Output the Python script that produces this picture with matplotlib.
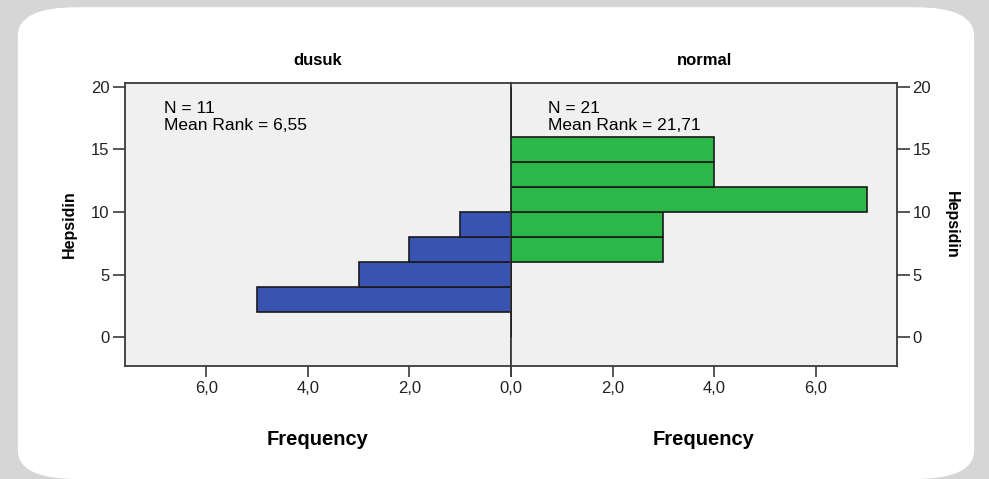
import matplotlib
matplotlib.use("Agg")
import matplotlib.pyplot as plt
from matplotlib.patches import FancyBboxPatch

plt.rcParams['font.family'] = ['Liberation Sans', 'DejaVu Sans']

# Data
groups = ["dusuk", "normal"]
bin_starts = [0, 2, 4, 6, 8, 10, 12, 14, 16, 18]
dusuk_counts = [0, 5, 3, 2, 1, 0, 0, 0, 0, 0]
normal_counts = [0, 0, 0, 3, 3, 7, 4, 4, 0, 0]
bin_width = 2
n_labels = ["N = 11\nMean Rank = 6,55", "N = 21\nMean Rank = 21,71"]
y_ticks = [0, 5, 10, 15, 20]
x_ticks = [0, 2, 4, 6]
x_ticklabels = ["0,0", "2,0", "4,0", "6,0"]

W, H = 989, 479
fig = plt.figure(figsize=(W / 100, H / 100), dpi=100)
fig.patch.set_facecolor('#d6d6d6')
card = FancyBboxPatch((0.018, 0.0), 0.985 - 0.018, 0.985, boxstyle="round,pad=0,rounding_size=0.06",
                      transform=fig.transFigure, facecolor='white', edgecolor='none', zorder=-10)
fig.patches.append(card)

def fx(px):
    return px / W

def fy(py):
    return 1 - py / H

ax_bottom = fy(366)
ax_h = fy(83) - fy(366)
axL = fig.add_axes([fx(125), ax_bottom, fx(511) - fx(125), ax_h])
axR = fig.add_axes([fx(511), ax_bottom, fx(897) - fx(511), ax_h])

blue = '#3953b0'
green = '#2cb848'
edge = '#1a1a1a'
bg = '#f0f0f0'
spine_c = '#3a3a3a'
xmax = 7.6
ylim = (-2.3, 20.3)

for ax, counts, color in [(axL, dusuk_counts, blue), (axR, normal_counts, green)]:
    ax.set_facecolor(bg)
    ax.barh(bin_starts, counts, height=bin_width, align='edge', color=color,
            edgecolor=edge, linewidth=1.2, zorder=3)
    ax.set_ylim(*ylim)
    ax.set_yticks(y_ticks)
    ax.set_xticks(x_ticks)
    for s in ax.spines.values():
        s.set_color(spine_c)
        s.set_linewidth(1.3)
    ax.tick_params(axis='both', colors=spine_c, labelcolor='#222222', labelsize=12,
                   length=9, width=1.2, pad=2)
    ax.tick_params(axis='x', length=8, pad=3)

axL.set_xlim(xmax, 0)
axR.set_xlim(0, xmax)
axL.set_xticklabels(x_ticklabels)
axR.set_xticklabels([""] + x_ticklabels[1:])

axL.yaxis.tick_left()
axR.yaxis.tick_right()
axR.tick_params(axis='y', left=False, labelleft=False, right=True, labelright=True)

axL.set_ylabel("Hepsidin", fontsize=11.5, fontweight='bold', labelpad=10)
axR.yaxis.set_label_position('right')
axR.set_ylabel("Hepsidin", fontsize=11.5, fontweight='bold', rotation=-90, labelpad=20)

for ax, g in [(axL, groups[0]), (axR, groups[1])]:
    ax.set_title(g, fontsize=12, fontweight='bold', pad=13)
    ax.set_xlabel("Frequency", fontsize=14.5, fontweight='bold', labelpad=24)

axL.text(0.1, 0.935, n_labels[0], transform=axL.transAxes, fontsize=12.5, va='top',
         ha='left', linespacing=1.15, zorder=1)
axR.text(0.095, 0.935, n_labels[1], transform=axR.transAxes, fontsize=12.5, va='top',
         ha='left', linespacing=1.15, zorder=1)

fig.savefig("out.png", dpi=100, facecolor=fig.get_facecolor())
